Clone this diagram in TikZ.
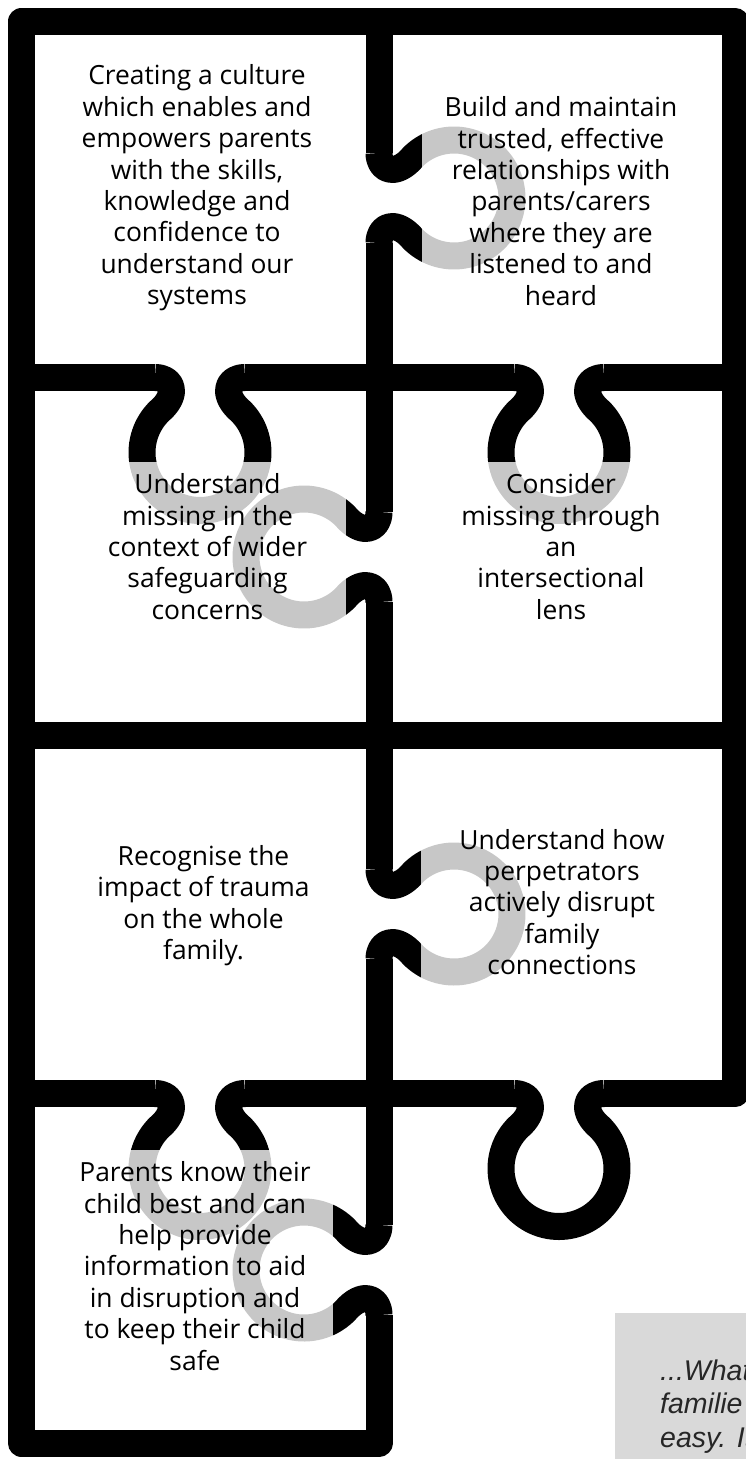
\documentclass[tikz,border=0pt]{standalone}
\usepackage{fontspec}
\setmainfont{Open Sans}
\newfontfamily\quotefont{Liberation Sans}
\definecolor{qgray}{HTML}{D9D9D9}
\newcommand\puzknob[3]{%
  \begin{scope}[shift={#1},x={#2},y={#3}]
    \draw[puz] (-45,0) .. controls (-28,0) and (-22,15) .. ({-58*sin(40)},{75-58*cos(40)})
      -- plot[smooth,domain=40:320,samples=41] ({-58*sin(\x)},{75-58*cos(\x)})
      -- ({58*sin(40)},{75-58*cos(40)}) .. controls (22,15) and (28,0) .. (45,0);
  \end{scope}}
\begin{document}
\begin{tikzpicture}[x=1pt,y=-1pt,
  puz/.style={draw=black,line width=27pt,line join=round},
  veil/.style={fill=white,fill opacity=0.78},
  txt/.style={align=center,inner sep=0pt,text=black,font=\fontsize{26.4}{31.4}\selectfont},
  qt/.style={anchor=base west,inner sep=0pt,text=black!85,font=\quotefont\itshape\fontsize{28.5}{34}\selectfont}]
\useasboundingbox (0,0) rectangle (746,1459);
\clip (0,0) rectangle (746,1459);
\fill[white] (0,0) rectangle (746,1459);
% outer frame with divider end
\draw[puz] (379,1315) -- (379,1443) -- (21.5,1443) -- (21.5,21.5) -- (735,21.5) -- (735,1093.5) -- (604,1093.5);
% band 3
\draw[puz] (514,1093.5) -- (245,1093.5);
\draw[puz] (155,1093.5) -- (21.5,1093.5);
% band 2
\draw[puz] (21.5,735) -- (735,735);
% band 1
\draw[puz] (21.5,377.5) -- (155,377.5);
\draw[puz] (245,377.5) -- (514,377.5);
\draw[puz] (604,377.5) -- (735,377.5);
% divider
\draw[puz] (379,21.5) -- (379,153);
\draw[puz] (379,243) -- (379,512);
\draw[puz] (379,602) -- (379,869);
\draw[puz] (379,959) -- (379,1225);
% knobs
\puzknob{(379,198)}{(0pt,-1pt)}{(1pt,0pt)}
\puzknob{(379,557)}{(0pt,-1pt)}{(-1pt,0pt)}
\puzknob{(379,914)}{(0pt,-1pt)}{(1pt,0pt)}
\puzknob{(379,1270)}{(0pt,-1pt)}{(-1pt,0pt)}
\puzknob{(200,377.5)}{(1pt,0pt)}{(0pt,-1pt)}
\puzknob{(559,377.5)}{(1pt,0pt)}{(0pt,-1pt)}
\puzknob{(200,1093.5)}{(1pt,0pt)}{(0pt,-1pt)}
\puzknob{(559,1093.5)}{(1pt,0pt)}{(0pt,-1pt)}
% translucent text panels
\fill[veil] (422,85) rectangle (700,322);
\fill[veil] (100,462) rectangle (346,640);
\fill[veil] (455,462) rectangle (670,640);
\fill[veil] (421,826) rectangle (700,992);
\fill[veil] (110,1150) rectangle (333,1392);
% quote panel
\fill[qgray] (615,1313) rectangle (760,1470);
% texts
\node[txt] (t1) at (197,188) {Creating a culture\\which enables and\\empowers parents\\with the skills,\\knowledge and\\confidence to\\understand our\\systems};
\node[txt] (t2) at (561,201) {Build and maintain\\trusted, effective\\relationships with\\parents/carers\\where they are\\listened to and\\heard};
\node[txt] (t3) at (207.5,546.5) {Understand\\missing in the\\context of wider\\safeguarding\\concerns};
\node[txt] (t4) at (561,546.5) {Consider\\missing through\\an\\intersectional\\lens};
\node[txt] (t5) at (203.5,905.5) {Recognise the\\impact of trauma\\on the whole\\family.};
\node[txt] (t6) at (562,902) {Understand how\\perpetrators\\actively disrupt\\family\\connections};
\node[txt] (t7) at (195,1266) {Parents know their\\child best and can\\help provide\\information to aid\\in disruption and\\to keep their child\\safe};
\node[qt] (q1) at (660,1380) {...What};
\node[qt] (q2) at (660,1413.5) {familie};
\node[qt] (q3) at (660,1447) {easy. It};
\end{tikzpicture}
\end{document}
